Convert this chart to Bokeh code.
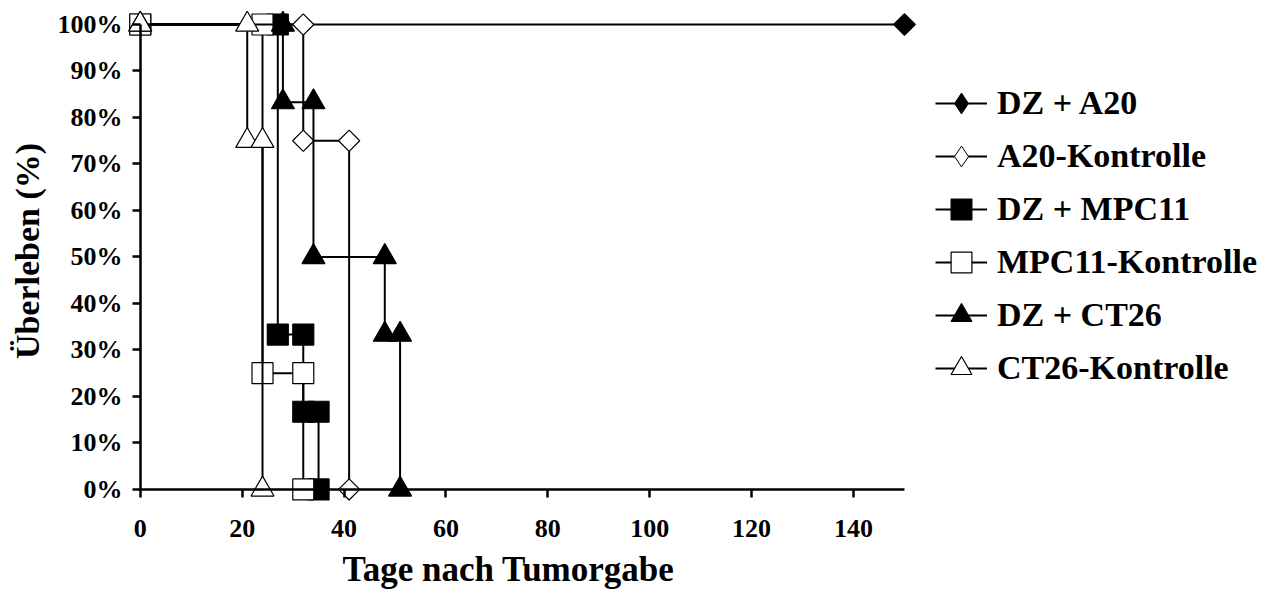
import numpy as np
from bokeh.plotting import figure
from bokeh.models import Range1d, FixedTicker, Legend, LegendItem, Title, LinearAxis
from bokeh.embed import file_html
from bokeh.resources import INLINE

# ---- data ----
series_names = ["DZ + A20", "A20-Kontrolle", "DZ + MPC11",
                "MPC11-Kontrolle", "DZ + CT26", "CT26-Kontrolle"]

dz_a20_days = [0, 150]
dz_a20_surv = [100, 100]

a20_ctrl_days = [0, 32, 41]
a20_ctrl_surv = [100, 75, 0]

dz_mpc11_days = [0, 27, 32, 35]
dz_mpc11_surv = [100, 33.3, 16.7, 0]

mpc11_ctrl_days = [0, 24, 32]
mpc11_ctrl_surv = [100, 25, 0]

dz_ct26_days = [0, 28, 34, 48, 51]
dz_ct26_surv = [100, 83.3, 50, 33.3, 0]

ct26_ctrl_days = [0, 21, 24]
ct26_ctrl_surv = [100, 75, 0]

x_ticks = [0, 20, 40, 60, 80, 100, 120, 140]
x_tick_labels = ["0", "20", "40", "60", "80", "100", "120", "140"]
y_ticks = [0, 10, 20, 30, 40, 50, 60, 70, 80, 90, 100]
y_tick_labels = ["0%", "10%", "20%", "30%", "40%", "50%",
                 "60%", "70%", "80%", "90%", "100%"]

x_title = "Tage nach Tumorgabe"
y_title = "Überleben (%)"

FONT = "Liberation Serif"


def km_path(days, surv):
    xs, ys = [days[0]], [surv[0]]
    for i in range(1, len(days)):
        xs += [days[i], days[i]]
        ys += [surv[i - 1], surv[i]]
    return xs, ys


p = figure(width=1282, height=597,
           x_range=Range1d(-2.5, 224.2), y_range=Range1d(-2.6, 105.16),
           output_backend="svg", toolbar_location=None,
           min_border_left=127, min_border_right=0,
           min_border_top=0, min_border_bottom=96)
p.outline_line_color = None
p.grid.visible = False
p.background_fill_color = "white"

# axes drawn through the origin (lines + ticks), no labels
x_line_axis = LinearAxis(fixed_location=0, bounds=(0, 150),
                         ticker=FixedTicker(ticks=x_ticks))
y_line_axis = LinearAxis(fixed_location=0, bounds=(0, 100),
                         ticker=FixedTicker(ticks=y_ticks))
for ax in (x_line_axis, y_line_axis):
    ax.axis_line_width = 2.5
    ax.axis_line_color = "black"
    ax.major_tick_line_width = 2.5
    ax.major_tick_line_color = "black"
    ax.major_tick_in = 0
    ax.major_tick_out = 8
    ax.minor_tick_line_color = None
    ax.major_label_text_color = None
    ax.major_label_text_font_size = "1px"
p.add_layout(x_line_axis, "below")
p.add_layout(y_line_axis, "left")

series = [
    (dz_a20_days, dz_a20_surv, "square", 15, np.pi / 4, "black", True),
    (a20_ctrl_days, a20_ctrl_surv, "square", 15, np.pi / 4, "white", True),
    (dz_mpc11_days, dz_mpc11_surv, "square", 21, 0, "black", False),
    (mpc11_ctrl_days, mpc11_ctrl_surv, "square", 21, 0, "white", False),
    (dz_ct26_days, dz_ct26_surv, "triangle", 23, 0, "black", False),
    (ct26_ctrl_days, ct26_ctrl_surv, "triangle", 23, 0, "white", False),
]

items = []
for name, (d, s, marker, size, ang, fill, diamond) in zip(series_names, series):
    xs, ys = km_path(d, s)
    ln = p.line(xs, ys, line_color="black", line_width=2)
    if diamond:
        # plain diamond underneath (used for the legend key)
        dm = p.scatter(xs, ys, marker="diamond", size=19,
                       fill_color=fill, line_color="black", line_width=1)
    sc = p.scatter(xs, ys, marker=marker, size=size, angle=ang,
                   fill_color=fill, line_color="black", line_width=1.2)
    items.append(LegendItem(label=name, renderers=[ln, dm if diamond else sc]))

# label axes at the frame edges (labels only)
for ax in (p.xaxis[0], p.yaxis[0]):
    ax.axis_line_color = None
    ax.major_tick_line_color = None
    ax.major_tick_in = 0
    ax.major_tick_out = 0
    ax.minor_tick_line_color = None
    ax.major_label_text_font = FONT
    ax.major_label_text_font_style = "bold"
    ax.major_label_text_font_size = "26px"
    ax.major_label_text_color = "black"

p.xaxis[0].ticker = FixedTicker(ticks=x_ticks)
p.yaxis[0].ticker = FixedTicker(ticks=y_ticks)
p.xaxis[0].major_label_overrides = dict(zip(x_ticks, x_tick_labels))
p.yaxis[0].major_label_overrides = dict(zip(y_ticks, y_tick_labels))
p.xaxis[0].major_label_standoff = 18
p.yaxis[0].major_label_standoff = 5

xt = Title(text=x_title, align="left", offset=215, standoff=16,
           text_font=FONT, text_font_style="bold",
           text_font_size="35px", text_color="black")
p.add_layout(xt, "below")

yt = Title(text=y_title, align="center", offset=25, standoff=14,
           vertical_align="top",
           text_font=FONT, text_font_style="bold",
           text_font_size="34px", text_color="black")
p.add_layout(yt, "left")

legend = Legend(items=items, location=(808, 107), orientation="vertical",
                glyph_width=52, glyph_height=52, label_height=52,
                label_standoff=10, spacing=1, padding=0, margin=0,
                border_line_color=None, background_fill_alpha=0,
                label_text_font=FONT, label_text_font_style="bold",
                label_text_font_size="34px", label_text_color="black")
p.add_layout(legend, "center")

open("out.html", "w").write(file_html(p, INLINE))
